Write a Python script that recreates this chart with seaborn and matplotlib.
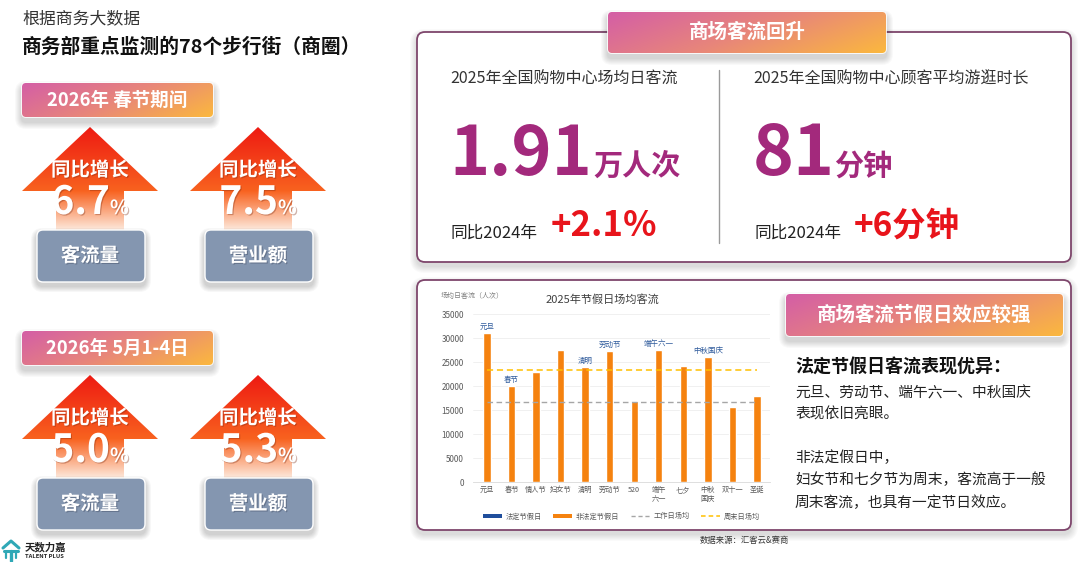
import numpy as np
import pandas as pd
import matplotlib
matplotlib.use('Agg')
import matplotlib.pyplot as plt
import seaborn as sns
from matplotlib.patches import FancyBboxPatch, Polygon, Patch
from matplotlib.colors import LinearSegmentedColormap
from matplotlib.lines import Line2D
import matplotlib.patheffects as pe

# ---------------- data ----------------
holidays = ['元旦', '春节', '情人节', '妇女节', '清明', '劳动节', '520',
            '端午\n六一', '七夕', '中秋\n国庆', '双十一', '圣诞']
flow = [31000, 20000, 23000, 27400, 23900, 27300, 16800, 27500, 24100, 26000, 15600, 18000]
legal_idx = [0, 1, 4, 5, 7, 9]
legal_names = ['元旦', '春节', '清明', '劳动节', '端午六一', '中秋国庆']
weekday_avg = 16600
weekend_avg = 23300
y_ticks = [0, 5000, 10000, 15000, 20000, 25000, 30000, 35000]

kpi_names = ['客流量', '营业额']
spring_growth = ['6.7', '7.5']
may_growth = ['5.0', '5.3']
section_titles = ['2026年 春节期间', '2026年 5月1-4日']

mall_flow = '1.91'
mall_flow_yoy = '+2.1%'
stay_minutes = '81'
stay_yoy = '+6分钟'

# ---------------- setup ----------------
sns.set_theme(style='white')
plt.rcParams['font.family'] = ['Noto Sans CJK SC', 'DejaVu Sans']
plt.rcParams['axes.unicode_minus'] = False

W, H = 1080, 562
fig = plt.figure(figsize=(10.8, 5.62), dpi=100)
fig.patch.set_facecolor('white')
bg = fig.add_axes([0, 0, 1, 1])
bg.set_xlim(0, W)
bg.set_ylim(H, 0)
bg.axis('off')

PILL = [(0, '#d45ea6'), (0.5, '#e8867a'), (1, '#fbb83e')]
ARROW = [(0, '#ee1a12'), (0.62, '#f8621f'), (1, '#fde8da')]
shadow_fx = [pe.SimplePatchShadow(offset=(0.8, -0.8), shadow_rgbFace='#7a2a10', alpha=0.35), pe.Normal()]
shadow_fx2 = [pe.SimplePatchShadow(offset=(0.8, -0.8), shadow_rgbFace='#303a50', alpha=0.35), pe.Normal()]


def rbox(x0, y0, x1, y1, r, **kw):
    p = FancyBboxPatch((x0, y0), x1 - x0, y1 - y0,
                       boxstyle=f'round,pad=0,rounding_size={r}', **kw)
    bg.add_patch(p)
    return p


def soft_shadow(x0, y0, x1, y1, r, dy=4, z=1, a=0.03, n=6):
    for k in range(1, n + 1):
        rbox(x0 - k, y0 + dy - k, x1 + k, y1 + dy + k, r + k,
             fc='black', ec='none', alpha=a, zorder=z)


def gradient(x0, y0, x1, y1, stops, clip, mode='diag', z=3):
    n = 200
    u = np.linspace(0, 1, n)
    U, V = np.meshgrid(u, u)
    if mode == 'diag':
        T = 0.72 * U + 0.28 * V
    else:
        T = V
    cmap = LinearSegmentedColormap.from_list('g', stops)
    im = bg.imshow(T, cmap=cmap, extent=(x0, x1, y1, y0), origin='upper',
                   aspect='auto', interpolation='bilinear', vmin=0, vmax=1, zorder=z)
    im.set_clip_path(clip)


def pill(x0, y0, x1, y1, text, size=12, z=5):
    soft_shadow(x0, y0, x1, y1, 4, dy=5, z=z - 1, a=0.025, n=7)
    clip = rbox(x0, y0, x1, y1, 4, fc='white', ec='white', lw=1.2, zorder=z)
    gradient(x0, y0, x1, y1, PILL, clip, 'diag', z=z + 0.1)
    bg.text((x0 + x1) / 2, (y0 + y1) / 2, text, ha='center', va='center', color='white',
            fontsize=size, fontweight='bold', zorder=z + 1)


def arrow_kpi(cx, tip, value, name):
    base = tip + 64
    bottom = tip + 103
    half, sh = 68, 34
    pts = [(cx, tip), (cx + half, base), (cx + sh, base), (cx + sh, bottom),
           (cx - sh, bottom), (cx - sh, base), (cx - half, base)]
    poly = Polygon(pts, closed=True, fc='none', ec='none', zorder=3)
    bg.add_patch(poly)
    gradient(cx - half, tip, cx + half, bottom, ARROW, poly, 'v', z=3)
    bg.text(cx, tip + 43, '同比增长', ha='center', va='center', color='white',
            fontsize=14, fontweight='bold', zorder=6, path_effects=shadow_fx)
    bg.text(cx + 20, tip + 87, value, ha='right', va='baseline', color='white',
            fontsize=28, fontweight='bold', zorder=6, path_effects=shadow_fx)
    bg.text(cx + 20, tip + 87, '%', ha='left', va='baseline', color='white',
            fontsize=14, fontweight='bold', zorder=6, path_effects=shadow_fx)
    # grey label box
    x0, x1 = cx - 53, cx + 55
    y0, y1 = bottom, bottom + 52
    soft_shadow(x0, y0, x1, y1, 6, dy=4, z=4, a=0.03, n=6)
    rbox(x0, y0, x1, y1, 6, fc='#8496b0', ec='white', lw=1.0, zorder=5)
    bg.text(cx, (y0 + y1) / 2, name, ha='center', va='center', color='white',
            fontsize=14, fontweight='bold', zorder=6, path_effects=shadow_fx2)


# ---------------- left side ----------------
bg.text(22, 18, '根据商务大数据', ha='left', va='center', fontsize=12.2, color='#333333')
bg.text(22, 47, '商务部重点监测的78个步行街（商圈）', ha='left', va='center',
        fontsize=14.2, fontweight='bold', color='#111111')

for s, (title, vals) in enumerate(zip(section_titles, [spring_growth, may_growth])):
    off = 248 * s
    pill(22, 83 + off, 213, 117 + off, title, size=13.3)
    for i, (v, nm) in enumerate(zip(vals, kpi_names)):
        arrow_kpi(90 + 168 * i, 127 + off, v, nm)

# logo
teal = '#2fa8b6'
bg.plot([3, 11, 19], [548, 541, 548], color=teal, lw=2.2, solid_capstyle='round', zorder=5)
bg.plot([4, 18], [551, 551], color=teal, lw=2.2, zorder=5)
bg.plot([11, 11], [551, 561], color=teal, lw=2.4, zorder=5)
bg.plot([6, 6], [553, 558], color=teal, lw=1.6, zorder=5)
bg.plot([16, 16], [553, 558], color=teal, lw=1.6, zorder=5)
bg.text(25, 547, '天数力嘉', ha='left', va='center', fontsize=7.5, fontweight='bold', color='#222222')
bg.text(25, 556, 'TALENT PLUS', ha='left', va='center', fontsize=4.2, fontweight='bold', color='#222222')

# ---------------- top right panel ----------------
PURPLE = '#a3297c'
RED = '#e8141b'
BORDER = '#7e466c'
soft_shadow(417, 32, 1071, 262, 8, dy=4, z=1, a=0.02, n=7)
rbox(417, 32, 1071, 262, 8, fc='white', ec=BORDER, lw=1.3, zorder=2)
pill(608, 12, 886, 53, '商场客流回升', size=14, z=5)
bg.plot([719, 719], [70, 243], color='#9a9a9a', lw=1.0, zorder=3)

bg.text(450, 79, '2025年全国购物中心场均日客流', ha='left', va='center', fontsize=11.5, color='#333333', zorder=3)
bg.text(449, 175, mall_flow, ha='left', va='baseline', fontsize=49, fontweight='bold', color=PURPLE, zorder=3)
bg.text(593, 175, '万人次', ha='left', va='baseline', fontsize=21, fontweight='bold', color=PURPLE, zorder=3)
bg.text(450, 233, '同比2024年', ha='left', va='center', fontsize=12, color='#222222', zorder=3)
bg.text(551, 226, mall_flow_yoy, ha='left', va='center', fontsize=25, fontweight='bold', color=RED, zorder=3)

bg.text(753, 79, '2025年全国购物中心顾客平均游逛时长', ha='left', va='center', fontsize=11.5, color='#333333', zorder=3)
bg.text(753, 175, stay_minutes, ha='left', va='baseline', fontsize=50, fontweight='bold', color=PURPLE, zorder=3)
bg.text(834, 175, '分钟', ha='left', va='baseline', fontsize=21, fontweight='bold', color=PURPLE, zorder=3)
bg.text(755, 233, '同比2024年', ha='left', va='center', fontsize=12, color='#222222', zorder=3)
bg.text(854, 226, stay_yoy, ha='left', va='center', fontsize=24, fontweight='bold', color=RED, zorder=3)

# ---------------- bottom right panel ----------------
soft_shadow(417, 280, 1071, 530, 8, dy=4, z=1, a=0.02, n=7)
rbox(417, 280, 1071, 530, 8, fc='white', ec=BORDER, lw=1.3, zorder=2)
pill(786, 294, 1063, 336, '商场客流节假日效应较强', size=14, z=5)

bg.text(795, 367, '法定节假日客流表现优异：', ha='left', va='center', fontsize=13, fontweight='bold', color='#111111', zorder=3)
body = ['元旦、劳动节、端午六一、中秋国庆', '表现依旧亮眼。', '', '非法定假日中，',
        '妇女节和七夕节为周末，客流高于一般', '周末客流，也具有一定节日效应。']
body_y = [393, 415, 437, 458, 480, 503]
for t, yy in zip(body, body_y):
    bg.text(795, yy, t, ha='left', va='center', fontsize=10.6, color='#222222', zorder=3)

bg.text(744, 541, '数据来源：汇客云&赛商', ha='center', va='center', fontsize=6, color='#333333', zorder=3)

# chart titles
bg.text(602, 299, '2025年节假日场均客流', ha='center', va='center', fontsize=8, color='#404040', zorder=3)
bg.text(441, 296, '场均日客流（人次）', ha='left', va='center', fontsize=5, color='#7f7f7f', zorder=3)

# ---------------- bar chart ----------------
ax = fig.add_axes([473 / W, 1 - 482 / H, (770 - 473) / W, (482 - 314) / H], zorder=5)
ax.set_facecolor('none')
df = pd.DataFrame({'holiday': holidays, 'flow': flow})
sns.barplot(data=df, x='holiday', y='flow', color='#f5820f', saturation=1, width=0.3, ax=ax, zorder=3)
ax.set_ylim(0, 35000)
ax.set_xlim(-0.57, 11.53)
ax.set_yticks(y_ticks)
ax.set_yticklabels([str(v) for v in y_ticks], fontsize=5.8, color='#595959')
ax.set_xticks(range(len(holidays)))
ax.set_xticklabels(holidays, fontsize=5.2, color='#595959', linespacing=1.2)
ax.tick_params(axis='x', length=0, pad=3)
ax.tick_params(axis='y', length=0, pad=6.5)
ax.set_xlabel('')
ax.set_ylabel('')
for sp in ['top', 'right', 'left']:
    ax.spines[sp].set_visible(False)
ax.spines['bottom'].set_color('#d9d9d9')
ax.spines['bottom'].set_linewidth(0.6)
ax.yaxis.grid(True, color='#eeeeee', lw=0.6, zorder=0)
ax.set_axisbelow(True)

ax.hlines(weekday_avg, 0, len(holidays) - 1, colors='#a6a6a6', linestyles=(0, (4, 2.5)), lw=1.0, zorder=4)
ax.hlines(weekend_avg, 0, len(holidays) - 1, colors='#ffc000', linestyles=(0, (4, 2.5)), lw=1.1, zorder=4)
for i, nm in zip(legal_idx, legal_names):
    ax.text(i, flow[i] + 500, nm, ha='center', va='bottom', fontsize=5.4, color='#2f5b9c', zorder=5)

handles = [Patch(fc='#1f4e9c', ec='none'), Patch(fc='#f5820f', ec='none'),
           Line2D([], [], color='#a6a6a6', ls=(0, (3, 2)), lw=1.0),
           Line2D([], [], color='#ffc000', ls=(0, (3, 2)), lw=1.1)]
labels = ['法定节假日', '非法定节假日', '工作日场均', '周末日场均']
leg = ax.legend(handles, labels, loc='center', bbox_to_anchor=(0.5, -0.205), ncol=4, frameon=False,
                fontsize=5.2, handlelength=2.6, handleheight=0.5, columnspacing=1.6, handletextpad=0.5)
for t in leg.get_texts():
    t.set_color('#595959')

bg.set_xlim(0, W)
bg.set_ylim(H, 0)
fig.savefig('out.png', dpi=100, facecolor='white')
